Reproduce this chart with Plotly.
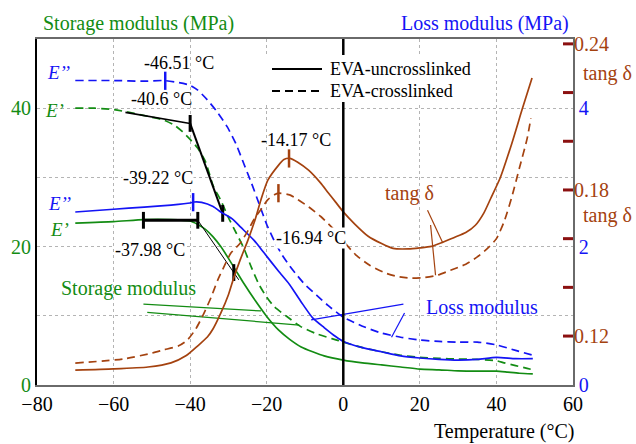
import numpy as np
import plotly.graph_objects as go

# ---------------- data ----------------
# Storage modulus E' (MPa), EVA-uncrosslinked (solid)
T_sto_unc = [-70, -60, -52, -45, -40, -38, -36, -34, -32, -30, -28, -26, -23, -20, -17, -14, -11, -8, -5, 0,
             5, 10, 15, 20, 25, 30, 35, 40, 43, 46, 49.5]
E_sto_unc = [23.4, 23.6, 23.9, 23.9, 23.7, 23.2, 22.5, 21.4, 20.0, 18.3, 16.5, 14.7, 12.2, 9.9, 8.0, 6.6, 5.5, 4.8, 4.2, 3.6,
             3.2, 2.9, 2.6, 2.3, 2.2, 2.05, 2.0, 2.0, 1.85, 1.7, 1.6]

# Storage modulus E' (MPa), EVA-crosslinked (dashed)
T_sto_cro = [-70, -65, -60, -55, -50, -47, -44, -42, -40, -38, -36, -34, -32, -30, -28, -26, -24, -22, -20, -18,
             -15, -11, -7, -3, 0, 5, 10, 15, 20, 25, 30, 35, 40, 42, 45, 48, 49.5]
E_sto_cro = [40.0, 40.0, 39.8, 39.3, 38.7, 38.3, 37.5, 36.6, 35.5, 34.2, 32.3, 28.8, 26.7, 24.2, 22.0, 19.8, 17.0, 14.5, 12.7, 11.3,
             10.0, 8.4, 7.4, 6.7, 6.2, 5.4, 4.8, 4.3, 4.0, 3.85, 3.75, 3.7, 3.5, 3.2, 2.8, 2.4, 2.2]

# Loss modulus E'' (MPa), uncrosslinked (solid)
T_los_unc = [-70, -60, -52, -45, -40, -39, -37, -34, -32, -29, -26.8, -23.3, -20.7, -17, -14, -11, -8, -5, -2, 0,
             5, 10, 15, 20, 25, 30, 35, 40, 45, 49.5]
E_los_unc = [2.50, 2.54, 2.57, 2.60, 2.63, 2.645, 2.64, 2.58, 2.50, 2.40, 2.28, 2.09, 1.91, 1.65, 1.45, 1.20, 0.97, 0.83, 0.70, 0.63,
             0.54, 0.48, 0.42, 0.39, 0.37, 0.36, 0.37, 0.40, 0.38, 0.38]

# Loss modulus E'' (MPa), crosslinked (dashed)
T_los_cro = [-70, -60, -52, -47, -43, -40, -38, -35.5, -33, -30.3, -28, -26, -24, -22, -20, -18, -16, -14, -12, -10,
             -7, -4, 0, 5, 10, 15, 20, 25, 30, 35, 40, 45, 49.5]
E_los_cro = [4.40, 4.40, 4.39, 4.40, 4.37, 4.33, 4.26, 4.12, 3.95, 3.73, 3.48, 3.20, 2.92, 2.62, 2.32, 2.08, 1.88, 1.72, 1.58, 1.45,
             1.30, 1.15, 0.98, 0.85, 0.75, 0.69, 0.65, 0.63, 0.62, 0.62, 0.58, 0.50, 0.43]

# tan delta, uncrosslinked (solid)
T_tan_unc = [-70, -60, -51, -45, -41, -38, -35.5, -34, -32, -30, -28.6, -27, -25, -23, -21.5, -19.7, -17, -15.5, -14, -12,
             -9, -6, -4, -2, 0, 3, 6.5, 10, 13, 17, 20, 23, 26, 29, 32, 34.5, 36.7, 38.5, 41, 44, 46.7, 49.3]
tan_unc = [0.106, 0.1065, 0.1073, 0.109, 0.112, 0.116, 0.1196, 0.123, 0.1294, 0.137, 0.144, 0.151, 0.159, 0.168, 0.176, 0.184,
           0.190, 0.1925, 0.193, 0.1915, 0.188, 0.183, 0.179, 0.175, 0.171, 0.166, 0.161, 0.158, 0.156, 0.1558, 0.1562, 0.1568,
           0.1585, 0.1605, 0.1625, 0.1655, 0.1705, 0.1765, 0.185, 0.199, 0.213, 0.226]

# tan delta, crosslinked (dashed)
T_tan_cro = [-70, -57.4, -50, -47, -43, -40.7, -38.5, -36.5, -34.5, -32.8, -31, -29.4, -27, -25, -23.3, -21.5, -19.7, -18,
             -16.9, -14, -11.8, -9, -5.8, -2, 0, 3.5, 7, 10.8, 14, 17.6, 21, 24.6, 28, 32, 35, 38, 40, 42, 44, 46, 48, 49]
tan_cro = [0.1089, 0.1106, 0.113, 0.1143, 0.116, 0.1184, 0.123, 0.129, 0.136, 0.143, 0.149, 0.154, 0.158, 0.163, 0.168, 0.172,
           0.176, 0.178, 0.1787, 0.178, 0.176, 0.173, 0.169, 0.163, 0.159, 0.153, 0.149, 0.146, 0.1445, 0.1438, 0.144, 0.145,
           0.147, 0.1495, 0.1525, 0.1565, 0.160, 0.167, 0.177, 0.189, 0.201, 0.2095]

# characteristic temperatures (°C)
T_los_cro_peak = -46.51
T_onset_cro = -40.6
T_los_unc_peak = -39.22
T_onset_unc = -37.98
T_tan_unc_peak = -14.17
T_tan_cro_peak = -16.94

# onset-construction lines (T, E')
onsetA_T, onsetA_E = [-56.9, -40.0], [39.4, 37.8]
onsetB_T, onsetB_E = [-40.0, -31.5], [37.8, 24.8]
onsetC_T, onsetC_E = [-52.2, -38.0], [23.8, 23.8]
onsetD_T, onsetD_E = [-38.0, -27.3], [23.8, 15.2]
onset_tick_T = [-40.0, -31.5, -52.2, -38.0, -28.6]
onset_tick_E = [37.8, 24.8, 23.8, 23.8, 16.25]

# leader lines of the text labels
lead_sto = [([-52.2, -21.5], [11.7, 10.7]), ([-51.2, -11.5], [10.5, 8.66])]
lead_los = [([-8.4, 15.7], [0.94, 1.17]), ([12.6, 16.0], [0.69, 1.04])]
lead_tan = [([22.0, 26.0], [0.1717, 0.1582]), ([22.8, 24.1], [0.1656, 0.145])]

x_ticks = [-80, -60, -40, -20, 0, 20, 40, 60]
sto_ticks = [0, 10, 20, 30, 40]
sto_text = ["0", "", "20", "", "40"]
los_ticks = [0, 2, 4]
tan_ticks = [0.12, 0.14, 0.16, 0.18, 0.20, 0.22, 0.24]
tan_text = ["0.12", "", "", "0.18", "", "", "0.24"]

# ---------------- style ----------------
FONT = "Liberation Serif, Times New Roman, Times, serif"
GREEN = "#138c13"
BLUE = "#1414f5"
BROWN = "#a4420f"
DARKRED = "#8b1010"
DASH = "8px,5px"
LW = 1.7

fig = go.Figure()


def line(x, y, color, dash=None, yaxis="y", width=LW):
    fig.add_trace(go.Scatter(x=x, y=y, mode="lines", yaxis=yaxis, hoverinfo="skip",
                             line=dict(color=color, width=width, dash=dash, shape="spline", smoothing=0.6)))


def straight(x, y, color, yaxis="y", width=1.2):
    fig.add_trace(go.Scatter(x=x, y=y, mode="lines", yaxis=yaxis, hoverinfo="skip",
                             line=dict(color=color, width=width)))


def ticks(x, y, color, yaxis="y", size=13, width=2.5):
    fig.add_trace(go.Scatter(x=x, y=y, mode="markers", yaxis=yaxis, hoverinfo="skip",
                             marker=dict(symbol="line-ns", size=size, color=color,
                                         line=dict(color=color, width=width))))


# curves
line(T_tan_unc, tan_unc, BROWN, yaxis="y3")
line(T_tan_cro, tan_cro, BROWN, dash=DASH, yaxis="y3")
line(T_sto_unc, E_sto_unc, GREEN)
line(T_sto_cro, E_sto_cro, GREEN, dash=DASH)
line(T_los_unc, E_los_unc, BLUE, yaxis="y2")
line(T_los_cro, E_los_cro, BLUE, dash=DASH, yaxis="y2")

# onset constructions
straight(onsetA_T, onsetA_E, "black", width=1.6)
straight(onsetB_T, onsetB_E, "black", width=2)
straight(onsetC_T, onsetC_E, "black", width=3)
straight(onsetD_T, onsetD_E, "black", width=1)
ticks(onset_tick_T, onset_tick_E, "black", size=12, width=3)

# peak ticks
ticks([T_los_cro_peak], [float(np.interp(T_los_cro_peak, T_los_cro, E_los_cro))], BLUE, yaxis="y2")
ticks([T_los_unc_peak], [float(np.interp(T_los_unc_peak, T_los_unc, E_los_unc))], BLUE, yaxis="y2")
ticks([T_tan_unc_peak], [float(np.interp(T_tan_unc_peak, T_tan_unc, tan_unc))], BROWN, yaxis="y3")
ticks([T_tan_cro_peak], [float(np.interp(T_tan_cro_peak, T_tan_cro, tan_cro))], BROWN, yaxis="y3")

# leader lines
for xs, ys in lead_sto:
    straight(xs, ys, GREEN, width=1.2)
for xs, ys in lead_los:
    straight(xs, ys, BLUE, yaxis="y2", width=1.2)
for xs, ys in lead_tan:
    straight(xs, ys, BROWN, yaxis="y3", width=1.2)

# ---------------- layout ----------------
L, R, T, B = 37, 63, 39, 59
W, H = 636, 444
pw, ph = W - L - R, H - T - B


def px_x(px):
    return (px - L) / pw


def px_y(py):
    return (H - B - py) / ph


grid = dict(showgrid=True, gridcolor="#b4b4b4", gridwidth=1, griddash="dot")

fig.update_layout(
    width=W, height=H, margin=dict(l=L, r=R, t=T, b=B, autoexpand=False),
    paper_bgcolor="white", plot_bgcolor="white", showlegend=False,
    font=dict(family=FONT, size=20, color="black"),
    xaxis=dict(range=[-80, 60], tickvals=x_ticks, ticks="", zeroline=False,
               showline=True, linecolor="#6a6a6a", linewidth=2, mirror=True,
               tickfont=dict(family=FONT, size=20, color="black"), automargin=False, **grid),
    yaxis=dict(range=[0, 50], tickvals=sto_ticks, ticktext=sto_text, ticks="", zeroline=False,
               showline=True, linecolor="black", linewidth=2,
               tickfont=dict(family=FONT, size=20, color=GREEN), automargin=False, **grid),
    yaxis2=dict(range=[0, 5], overlaying="y", side="right", anchor="x", tickvals=los_ticks,
                ticks="", showgrid=False, zeroline=False, showline=True, linecolor="#6a6a6a", linewidth=1.5,
                tickfont=dict(family=FONT, size=20, color=BLUE), automargin=False),
    yaxis3=dict(range=[0.0999, 0.2420], overlaying="y", side="right", anchor="x", tickvals=tan_ticks,
                ticktext=tan_text, ticks="", showgrid=False, zeroline=False, showline=False,
                tickfont=dict(family=FONT, size=20, color=BROWN), automargin=False),
)

# vertical line at 0 °C, legend box, tan-delta tick marks
shapes = [
    dict(type="line", xref="x", yref="paper", x0=0, x1=0, y0=0, y1=1,
         line=dict(color="black", width=2.5)),
    dict(type="rect", xref="paper", yref="paper", x0=px_x(266), x1=px_x(476), y0=px_y(102), y1=px_y(55),
         fillcolor="white", line=dict(width=0)),
    dict(type="line", xref="paper", yref="paper", x0=px_x(272), x1=px_x(322), y0=px_y(69), y1=px_y(69),
         line=dict(color="black", width=2)),
    dict(type="line", xref="paper", yref="paper", x0=px_x(272), x1=px_x(322), y0=px_y(91), y1=px_y(91),
         line=dict(color="black", width=2, dash="8px,5px")),
]
for v in tan_ticks:
    shapes.append(dict(type="line", xref="paper", yref="y3", x0=px_x(563), x1=1, y0=v, y1=v,
                       line=dict(color=DARKRED, width=3)))
fig.update_layout(shapes=shapes)

ann = []


def text(x, y, s, color="black", size=18, xref="x", yref="y", xanchor="center", bg=None):
    d = dict(x=x, y=y, xref=xref, yref=yref, text=s, showarrow=False, xanchor=xanchor, yanchor="middle",
             font=dict(family=FONT, size=size, color=color), borderpad=0)
    if bg:
        d["bgcolor"] = bg
    ann.append(d)


# axis titles
text(px_x(42), px_y(23), "Storage modulus (MPa)", GREEN, 20, "paper", "paper", "left")
text(px_x(570), px_y(23), "Loss modulus (MPa)", BLUE, 20, "paper", "paper", "right")
text(px_x(575), px_y(431), "Temperature (°C)", "black", 20, "paper", "paper", "right")
text(px_x(582), px_y(73), "tang δ", BROWN, 20, "paper", "paper", "left")
text(px_x(582), px_y(215), "tang δ", BROWN, 20, "paper", "paper", "left")

# legend texts
text(px_x(329), px_y(69), "EVA-uncrosslinked", "black", 18, "paper", "paper", "left")
text(px_x(329), px_y(91), "EVA-crosslinked", "black", 18, "paper", "paper", "left")

# curve labels
text(-74.5, 45.2, "<i>E’’</i>", BLUE, 19)
text(-75.3, 39.7, "<i>E’</i>", GREEN, 19)
text(-74.0, 26.3, "<i>E’’</i>", BLUE, 19)
text(-74.2, 22.4, "<i>E’</i>", GREEN, 19)

# temperatures
text(-43.0, 46.5, "%.2f °C" % T_los_cro_peak)
text(-47.5, 41.3, "%.1f °C" % T_onset_cro)
text(-48.3, 29.9, "%.2f °C" % T_los_unc_peak, bg="white")
text(-50.4, 19.5, "%.2f °C" % T_onset_unc, bg="white")
text(-12.3, 35.4, "%.2f °C" % T_tan_unc_peak)
text(-8.4, 21.2, "%.2f °C" % T_tan_cro_peak, bg="white")

# descriptive labels
text(17.3, 27.7, "tang δ", BROWN, 20)
text(-56.1, 14.0, "Storage modulus", GREEN, 20)
text(36.2, 11.3, "Loss modulus", BLUE, 20)

fig.update_layout(annotations=ann)

fig.write_html("out.html", config={"displayModeBar": False},
               post_script="document.body.style.margin='0';")
